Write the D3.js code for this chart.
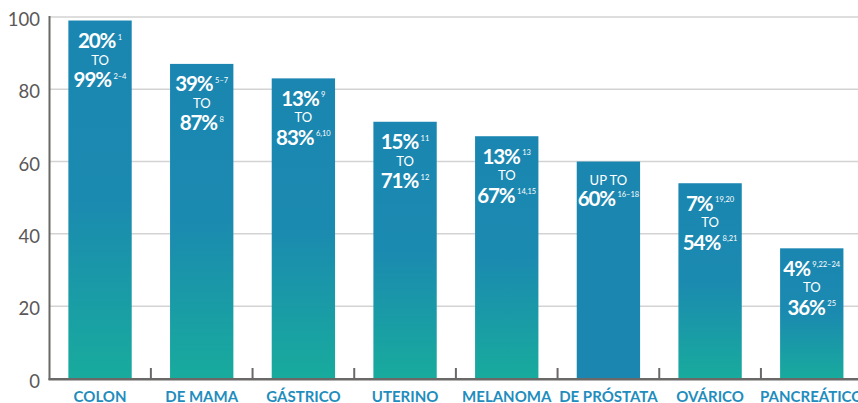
<!DOCTYPE html>
<html>
<head>
<meta charset="utf-8">
<script src="https://cdn.jsdelivr.net/npm/d3@7"></script>
<style>
  html, body { margin: 0; padding: 0; background: #fff; }
  svg { display: block; font-family: Lato, "Open Sans", sans-serif; }
</style>
</head>
<body>
<svg id="chart" width="858" height="403"></svg>
<script>
// ---- data ----
const categories = ["COLON", "DE MAMA", "GÁSTRICO", "UTERINO", "MELANOMA", "DE PRÓSTATA", "OVÁRICO", "PANCREÁTICO"];
const values = [99, 87, 83, 71, 67, 60, 54, 36];
const lowLabels = ["20%", "39%", "13%", "15%", "13%", "UP TO", "7%", "4%"];
const lowRefs = ["1", "5–7", "9", "11", "13", "", "19,20", "9,22–24"];
const highLabels = ["99%", "87%", "83%", "71%", "67%", "60%", "54%", "36%"];
const highRefs = ["2–4", "8", "6,10", "12", "14,15", "16–18", "8,21", "25"];
const yTicks = [0, 20, 40, 60, 80, 100];

// ---- layout ----
const W = 858, H = 403;
const svg = d3.select("#chart");

const x = d3.scaleBand().domain(categories).range([49.2, 862.6]).padding(0);
const y = d3.scaleLinear().domain([0, 100]).range([378.5, 16.9]);
const barFrac = 0.623;
const barW = x.bandwidth() * barFrac;

// gradient
const defs = svg.append("defs");
const grad = defs.append("linearGradient").attr("id", "barGrad")
  .attr("x1", 0).attr("y1", 0).attr("x2", 0).attr("y2", 1);
grad.append("stop").attr("offset", 0).attr("stop-color", "#1a86b1");
grad.append("stop").attr("offset", 0.5).attr("stop-color", "#1b8ab0");
grad.append("stop").attr("offset", 1).attr("stop-color", "#18ab9d");

// gridlines
svg.append("g").selectAll("line").data(yTicks.filter(d => d > 0)).join("line")
  .attr("x1", 50).attr("x2", W)
  .attr("y1", d => y(d)).attr("y2", d => y(d))
  .attr("stroke", "#d3d3d3").attr("stroke-width", 1.5);

// y tick labels
svg.append("g").selectAll("text").data(yTicks).join("text")
  .attr("x", 40).attr("y", d => y(d) + 9)
  .attr("text-anchor", "end")
  .attr("font-size", 18.5)
  .attr("fill", "#5b5758")
  .text(d => d);

// bars
svg.append("g").selectAll("rect").data(categories).join("rect")
  .attr("x", d => x(d) + (x.bandwidth() - barW) / 2)
  .attr("width", barW)
  .attr("y", (d, i) => y(values[i]))
  .attr("height", (d, i) => y(0) - y(values[i]))
  .attr("fill", (d, i) => lowRefs[i] === "" ? "#1b87b0" : "url(#barGrad)");

// axes
svg.append("line").attr("x1", 49.5).attr("x2", 49.5).attr("y1", 16).attr("y2", 380)
  .attr("stroke", "#6b6868").attr("stroke-width", 2);
svg.append("line").attr("x1", 48.5).attr("x2", W).attr("y1", 379.2).attr("y2", 379.2)
  .attr("stroke", "#6b6868").attr("stroke-width", 2.5);
svg.append("g").selectAll("line").data(categories.slice(1)).join("line")
  .attr("x1", d => x(d)).attr("x2", d => x(d))
  .attr("y1", 368).attr("y2", 379)
  .attr("stroke", "#6b6868").attr("stroke-width", 2);

// category labels
svg.append("g").selectAll("text").data(categories).join("text")
  .attr("x", d => x(d) + x.bandwidth() / 2)
  .attr("y", 401.5)
  .attr("text-anchor", "middle")
  .attr("font-size", 15)
  .attr("font-weight", 700)
  .attr("fill", "#1f8dbd")
  .text(d => d);

// bar labels
const lab = svg.append("g").attr("fill", "#fff");
categories.forEach((c, i) => {
  const cx = x(c) + x.bandwidth() / 2;
  const top = y(values[i]);
  function numLine(txt, ref, base) {
    const t = lab.append("text").attr("x", cx).attr("y", base)
      .attr("text-anchor", "middle");
    t.append("tspan").attr("font-size", 20.5).attr("font-weight", 700)
      .attr("letter-spacing", -1.1).text(txt);
    if (ref) {
      t.append("tspan").attr("font-size", 7.5).attr("font-weight", 400)
        .attr("dx", 2.5).attr("dy", -8.5).text(ref);
    }
  }
  function smallLine(txt, base) {
    lab.append("text").attr("x", cx).attr("y", base)
      .attr("text-anchor", "middle").attr("font-size", 13)
      .text(txt);
  }
  if (lowRefs[i] === "") {
    smallLine(lowLabels[i], top + 23);
    numLine(highLabels[i], highRefs[i], top + 44);
  } else {
    numLine(lowLabels[i], lowRefs[i], top + 27.5);
    smallLine("TO", top + 44);
    numLine(highLabels[i], highRefs[i], top + 66.5);
  }
});
</script>
</body>
</html>
